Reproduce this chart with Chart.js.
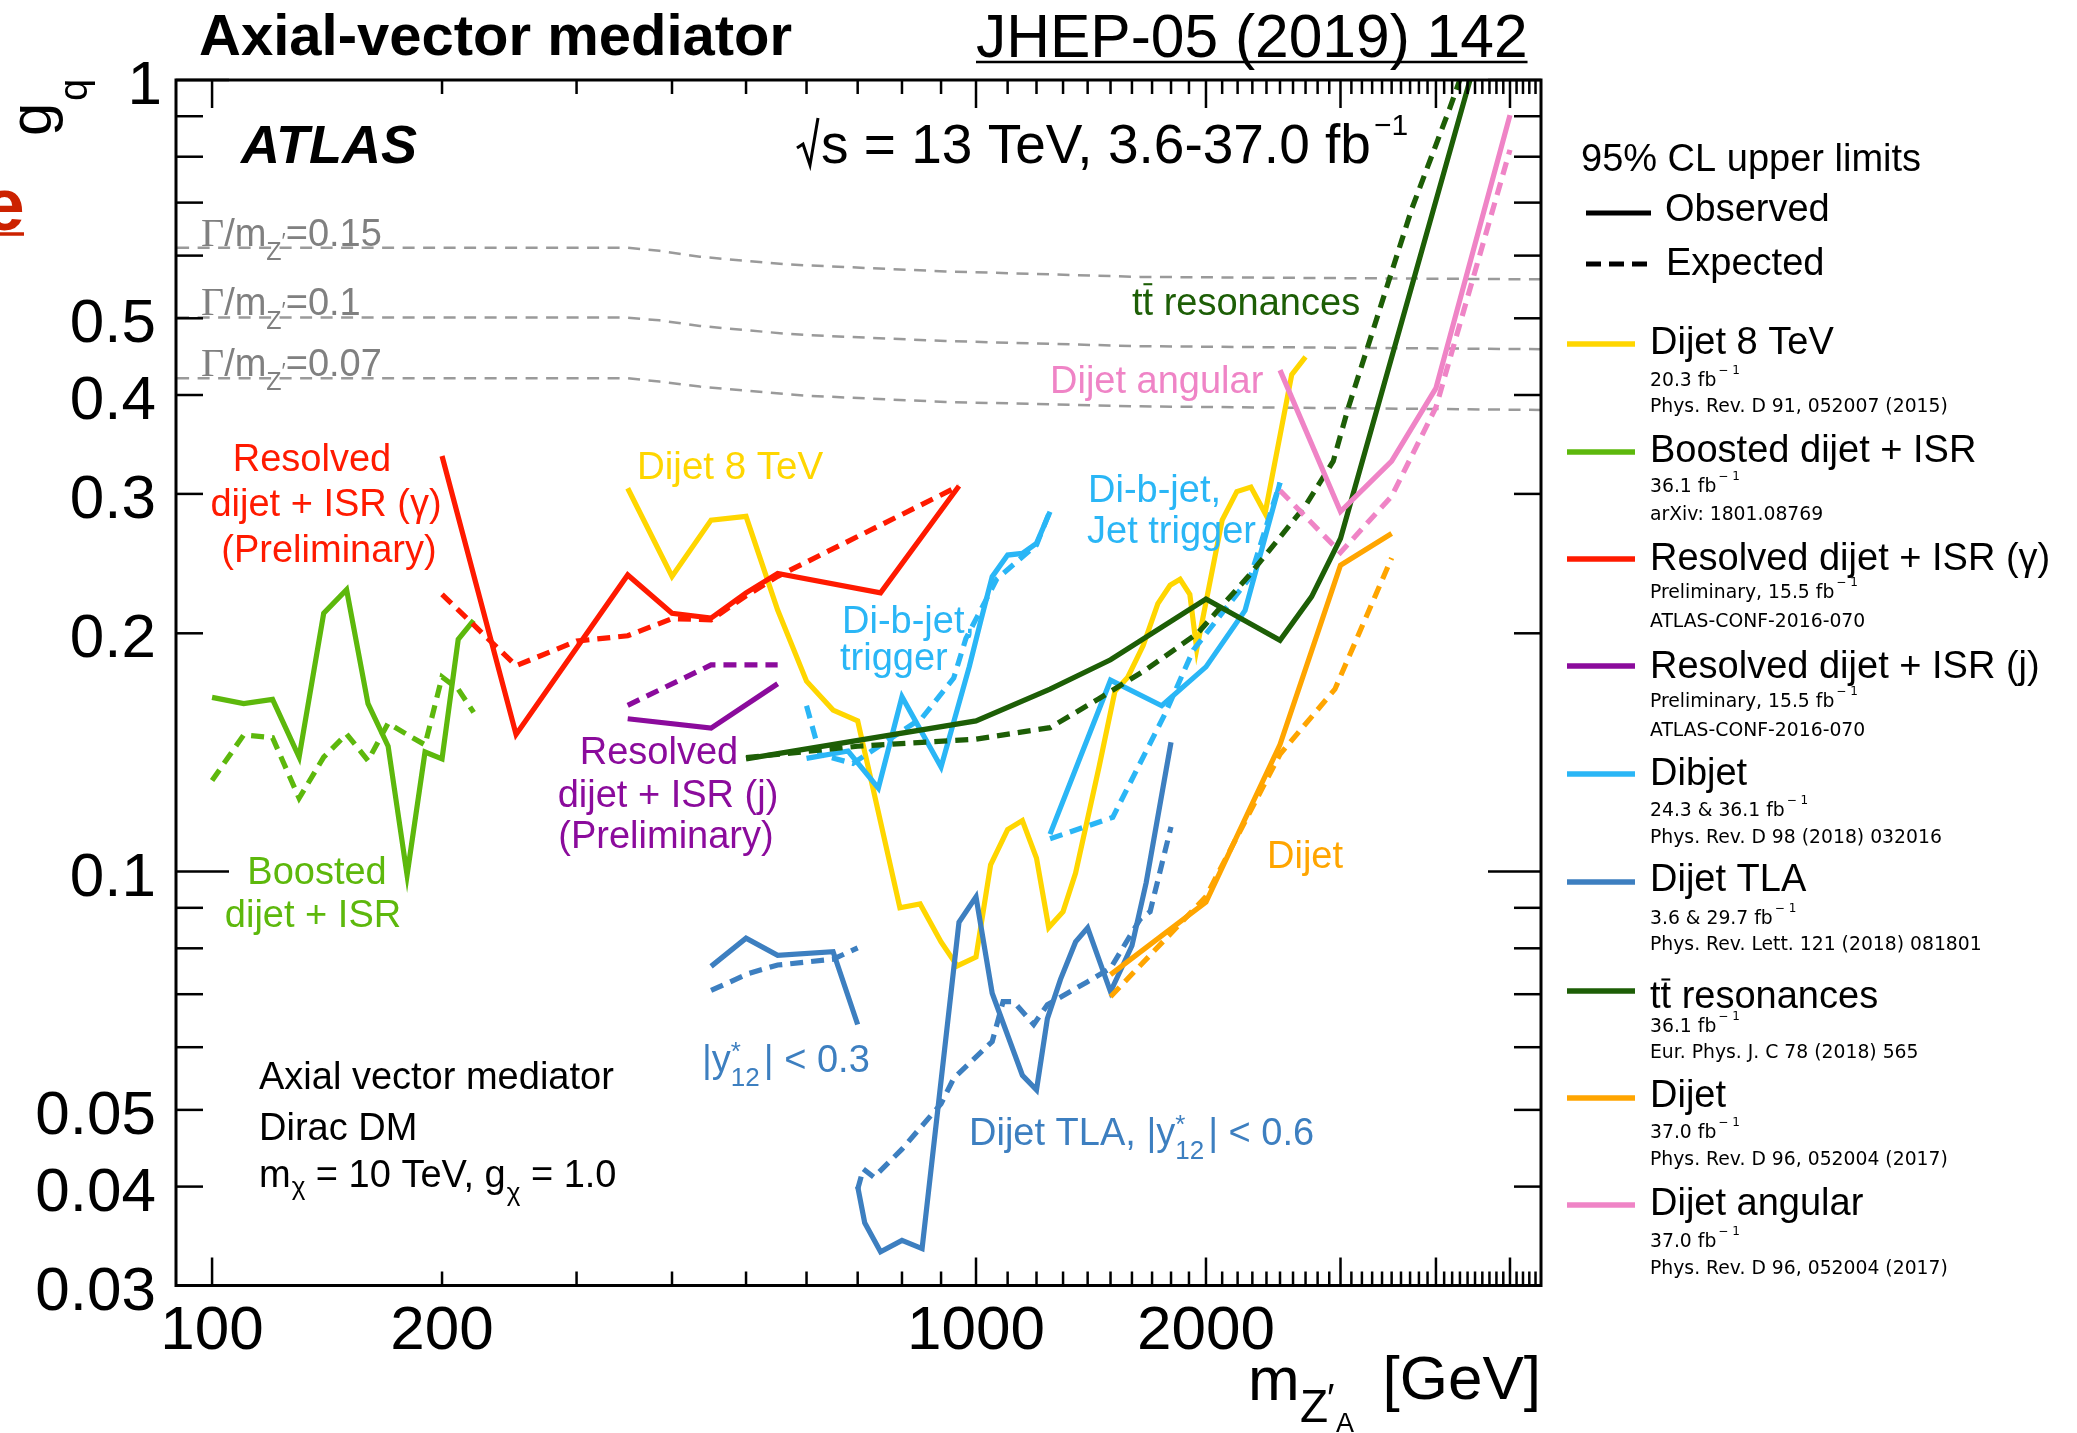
<!DOCTYPE html>
<html>
<head>
<meta charset="utf-8">
<title>Axial-vector mediator: limits on g_q</title>
<script src="https://cdn.jsdelivr.net/npm/chart.js@4.4.1/dist/chart.umd.min.js"></script>
<style>
  html, body { margin: 0; padding: 0; background: #ffffff; overflow: hidden; }
  canvas { display: block; }
</style>
</head>
<body>
<canvas id="plot" width="2077" height="1433"></canvas>
<script>
// ---------------- axes ----------------
const massRange = [89.7, 5490];
const couplingRange = [0.03, 1];
const xLabelValues = [100, 200, 1000, 2000];
const yLabelValues = [1, 0.5, 0.4, 0.3, 0.2, 0.1, 0.05, 0.04, 0.03];

// ---------------- fixed-width contours (Gamma / m) ----------------
const widthMass = [90, 350, 385, 435, 500, 565, 606, 912, 1640, 5500];
const width015 = [0.614, 0.614, 0.6085, 0.598, 0.591, 0.585, 0.583, 0.573, 0.564, 0.56];
const width010 = [0.501, 0.501, 0.497, 0.489, 0.483, 0.478, 0.476, 0.468, 0.461, 0.457];
const width007 = [0.42, 0.42, 0.416, 0.41, 0.405, 0.401, 0.399, 0.392, 0.387, 0.383];

// ---------------- Boosted dijet + ISR ----------------
const boostedMass = [100, 110, 120, 130, 140, 150, 160, 170, 180, 190, 200, 210, 220];
const boostedObs = [0.166, 0.163, 0.165, 0.1395, 0.212, 0.227, 0.163, 0.144, 0.099, 0.1416, 0.1388, 0.1965, 0.2076];
const boostedExp = [0.1303, 0.1488, 0.1476, 0.1238, 0.1395, 0.1492, 0.1381, 0.154, 0.149, 0.1446, 0.1762, 0.17, 0.1589];

// ---------------- Resolved dijet + ISR (gamma) ----------------
const resGamObsMass = [200, 250, 350, 400, 450, 500, 550, 750, 950];
const resGamObs = [0.335, 0.149, 0.237, 0.212, 0.209, 0.225, 0.238, 0.225, 0.307];
const resGamExpMass = [200, 250, 300, 350, 400, 450, 500, 550, 950];
const resGamExp = [0.224, 0.182, 0.1955, 0.1986, 0.2087, 0.208, 0.223, 0.236, 0.307];

// ---------------- Resolved dijet + ISR (jet) ----------------
const resJetMass = [350, 450, 550];
const resJetObs = [0.156, 0.1518, 0.1727];
const resJetExp = [0.1622, 0.1824, 0.1824];

// ---------------- Dijet 8 TeV ----------------
const dijet8Mass = [350, 400, 450, 500, 550, 600, 650, 700, 735, 795, 845, 900, 945, 1000, 1045, 1100, 1150, 1200, 1245, 1300, 1350, 1450, 1520, 1580, 1655, 1730, 1795, 1850, 1905, 1945, 2100, 2195, 2290, 2390, 2590, 2700];
const dijet8Obs = [0.305, 0.236, 0.278, 0.281, 0.214, 0.174, 0.16, 0.155, 0.126, 0.090, 0.091, 0.0815, 0.076, 0.078, 0.102, 0.113, 0.116, 0.104, 0.085, 0.089, 0.0996, 0.136, 0.169, 0.176, 0.193, 0.218, 0.23, 0.234, 0.224, 0.191, 0.278, 0.302, 0.306, 0.2835, 0.4245, 0.447];

// ---------------- Dibjet: b-jet trigger ----------------
const dibjetLowObsMass = [600, 680, 745, 800, 900, 980, 1015, 1050, 1100, 1150, 1200, 1250];
const dibjetLowObs = [0.139, 0.142, 0.1275, 0.1663, 0.1356, 0.1815, 0.2078, 0.2358, 0.2511, 0.2523, 0.2598, 0.2849];
const dibjetLowExpMass = [600, 625, 690, 765, 850, 935, 970, 1005, 1065, 1140, 1200, 1250];
const dibjetLowExp = [0.162, 0.1405, 0.137, 0.1463, 0.1564, 0.1756, 0.197, 0.2104, 0.2343, 0.248, 0.2587, 0.2857];

// ---------------- Dibjet: jet trigger ----------------
const dibjetHighObsMass = [1250, 1500, 1750, 2000, 2250, 2500];
const dibjetHighObs = [0.1115, 0.1745, 0.162, 0.1814, 0.2138, 0.31];
const dibjetHighExpMass = [1250, 1510, 1770, 1925, 2285, 2500];
const dibjetHighExp = [0.11, 0.1171, 0.1586, 0.1905, 0.2354, 0.31];

// ---------------- Dijet TLA, |y*12| < 0.3 ----------------
const tlaNarrowMass = [450, 500, 550, 650, 700];
const tlaNarrowObs = [0.0759, 0.0824, 0.0784, 0.0792, 0.0641];
const tlaNarrowExpMass = [450, 505, 550, 650, 700];
const tlaNarrowExp = [0.0708, 0.0744, 0.0762, 0.0775, 0.0801];

// ---------------- Dijet TLA, |y*12| < 0.6 ----------------
const tlaWideObsMass = [700, 715, 750, 800, 850, 950, 1000, 1050, 1150, 1200, 1240, 1290, 1350, 1400, 1500, 1600, 1670, 1800];
const tlaWideObs = [0.04, 0.036, 0.0331, 0.0342, 0.0334, 0.0863, 0.0929, 0.0702, 0.0553, 0.053, 0.0652, 0.0731, 0.0815, 0.0849, 0.0705, 0.0806, 0.0968, 0.1457];
const tlaWideExpMass = [700, 712, 735, 800, 900, 935, 1050, 1085, 1120, 1190, 1240, 1400, 1500, 1640, 1690, 1800];
const tlaWideExp = [0.0397, 0.0421, 0.0411, 0.0446, 0.0509, 0.0548, 0.061, 0.0685, 0.0685, 0.0641, 0.0679, 0.0726, 0.0755, 0.0871, 0.089, 0.1139];

// ---------------- ttbar resonances ----------------
const ttObsMass = [500, 1000, 1250, 1500, 2000, 2500, 2750, 3000, 4500];
const ttObs = [0.1388, 0.155, 0.17, 0.1852, 0.221, 0.196, 0.2225, 0.2635, 1.053];
const ttExpMass = [500, 700, 1000, 1250, 1450, 1670, 1950, 2280, 2700, 2935, 3070, 3380, 3720, 4170, 4450];
const ttExp = [0.1393, 0.144, 0.147, 0.152, 0.1655, 0.18, 0.2, 0.237, 0.29, 0.33, 0.385, 0.515, 0.688, 0.921, 1.1];

// ---------------- Dijet 13 TeV ----------------
const dijetObsMass = [1500, 2000, 2500, 3000, 3500];
const dijetObs = [0.0741, 0.0915, 0.1447, 0.2438, 0.2673];
const dijetExpMass = [1500, 2000, 2500, 2950, 3500];
const dijetExp = [0.0695, 0.093, 0.1407, 0.17, 0.249];

// ---------------- Dijet angular ----------------
const angularMass = [2500, 3000, 3500, 4000, 5000];
const angularObs = [0.43, 0.285, 0.33, 0.408, 0.903];
const angularExp = [0.303, 0.253, 0.298, 0.386, 0.816];

// ---------------- legend texts ----------------
const legendTitles = ['Dijet 8 TeV', 'Boosted dijet + ISR', 'Resolved dijet + ISR (\u03b3)', 'Resolved dijet + ISR (j)', 'Dibjet', 'Dijet TLA', 'tt resonances', 'Dijet', 'Dijet angular'];
const legendLumi = ['20.3 fb', '36.1 fb', 'Preliminary, 15.5 fb', 'Preliminary, 15.5 fb', '24.3 & 36.1 fb', '3.6 & 29.7 fb', '36.1 fb', '37.0 fb', '37.0 fb'];
const legendRefs = ['Phys. Rev. D 91, 052007 (2015)', 'arXiv: 1801.08769', 'ATLAS-CONF-2016-070', 'ATLAS-CONF-2016-070', 'Phys. Rev. D 98 (2018) 032016', 'Phys. Rev. Lett. 121 (2018) 081801', 'Eur. Phys. J. C 78 (2018) 565', 'Phys. Rev. D 96, 052004 (2017)', 'Phys. Rev. D 96, 052004 (2017)'];

// ---------------- styling ----------------
const COL = {
  dijet8: '#ffd600', boosted: '#5db80c', resGam: '#ff1a00', resJet: '#8b0b9c',
  dibjet: '#2ab6f6', tla: '#3d7fc0', ttbar: '#1d5e06', dijet: '#ffa500',
  angular: '#ef84c6', width: '#9a9a9a', widthText: '#808080'
};
const legendColors = [COL.dijet8, COL.boosted, COL.resGam, COL.resJet, COL.dibjet, COL.tla, COL.ttbar, COL.dijet, COL.angular];
const SANS = '"Liberation Sans", Arial, Helvetica, sans-serif';
const WIDE = '"DejaVu Sans", Verdana, sans-serif';
const SERIF = '"Liberation Serif", "Times New Roman", serif';
const DASH = [13, 8];
const LW = 5.2;

function pts(m, g) { return m.map((v, i) => ({ x: v, y: g[i] })); }
function curve(m, g, color, dashed, order, width) {
  return {
    data: pts(m, g), borderColor: color, backgroundColor: color,
    borderWidth: width || LW, borderDash: dashed ? (Array.isArray(dashed) ? dashed : DASH) : [],
    pointRadius: 0, fill: false, tension: 0, order: order, clip: 0
  };
}

const datasets = [
  curve(widthMass, width015, COL.width, [12, 8.5], 100, 2.5),
  curve(widthMass, width010, COL.width, [12, 8.5], 100, 2.5),
  curve(widthMass, width007, COL.width, [12, 8.5], 100, 2.5),
  curve(dijet8Mass, dijet8Obs, COL.dijet8, false, 20),
  curve(boostedMass, boostedExp, COL.boosted, true, 19),
  curve(boostedMass, boostedObs, COL.boosted, false, 19),
  curve(resGamExpMass, resGamExp, COL.resGam, true, 18),
  curve(resGamObsMass, resGamObs, COL.resGam, false, 18),
  curve(resJetMass, resJetExp, COL.resJet, true, 17),
  curve(resJetMass, resJetObs, COL.resJet, false, 17),
  curve(dibjetLowExpMass, dibjetLowExp, COL.dibjet, true, 16),
  curve(dibjetLowObsMass, dibjetLowObs, COL.dibjet, false, 16),
  curve(dibjetHighExpMass, dibjetHighExp, COL.dibjet, true, 16),
  curve(dibjetHighObsMass, dibjetHighObs, COL.dibjet, false, 16),
  curve(tlaNarrowExpMass, tlaNarrowExp, COL.tla, true, 15),
  curve(tlaNarrowMass, tlaNarrowObs, COL.tla, false, 15),
  curve(tlaWideExpMass, tlaWideExp, COL.tla, true, 15),
  curve(tlaWideObsMass, tlaWideObs, COL.tla, false, 15),
  curve(ttExpMass, ttExp, COL.ttbar, true, 14),
  curve(ttObsMass, ttObs, COL.ttbar, false, 14),
  curve(dijetExpMass, dijetExp, COL.dijet, true, 13),
  curve(dijetObsMass, dijetObs, COL.dijet, false, 13),
  curve(angularMass, angularExp, COL.angular, true, 12),
  curve(angularMass, angularObs, COL.angular, false, 12)
];

// ---------------- text helpers ----------------
function fnt(size, weight, style, fam) {
  return (style || 'normal') + ' ' + (weight || 'normal') + ' ' + size + 'px ' + (fam || SANS);
}
function put(ctx, text, x, y, size, color, opt) {
  opt = opt || {};
  ctx.font = fnt(size, opt.weight, opt.style, opt.fam);
  ctx.fillStyle = color;
  ctx.textAlign = opt.align || 'left';
  ctx.textBaseline = 'alphabetic';
  ctx.fillText(text, x, y);
  return ctx.measureText(text).width;
}
// a run of text pieces (sub/superscripts, stacked indices, overlines)
function seq(ctx, x, y, color, parts, align) {
  const widths = parts.map(p => { ctx.font = fnt(p.size, p.weight, p.style, p.fam); return ctx.measureText(p.t).width; });
  function layout(draw, x0) {
    let cx = x0, lastX = x0, lastW = 0;
    parts.forEach((p, i) => {
      const w = widths[i];
      let px;
      if (p.stack) { px = lastX; cx = lastX + Math.max(lastW, w); lastW = Math.max(lastW, w); }
      else { px = cx + (p.gap || 0); lastX = px; lastW = w; cx = px + w; }
      if (draw) {
        ctx.font = fnt(p.size, p.weight, p.style, p.fam);
        ctx.fillStyle = color; ctx.textAlign = 'left'; ctx.textBaseline = 'alphabetic';
        ctx.fillText(p.t, px, y + (p.dy || 0));
        if (p.over) {
          ctx.strokeStyle = color; ctx.lineWidth = Math.max(1.5, p.size * 0.055); ctx.setLineDash([]);
          const oy = y + (p.dy || 0) - p.size * p.over;
          ctx.beginPath(); ctx.moveTo(px + w * 0.08, oy); ctx.lineTo(px + w * 0.92, oy); ctx.stroke();
        }
      }
    });
    return cx - x0;
  }
  const total = layout(false, 0);
  const x0 = align === 'center' ? x - total / 2 : (align === 'right' ? x - total : x);
  layout(true, x0);
  return total;
}
function seg(ctx, x1, y1, x2, y2) { ctx.beginPath(); ctx.moveTo(x1, y1); ctx.lineTo(x2, y2); ctx.stroke(); }

// ---------------- frame, ticks, labels, legend ----------------
const decorations = {
  id: 'decorations',
  afterDraw(chart) {
    const ctx = chart.ctx;
    const a = chart.chartArea;
    const xs = chart.scales.x, ys = chart.scales.y;
    ctx.save();

    // frame
    ctx.strokeStyle = '#000'; ctx.lineWidth = 3; ctx.setLineDash([]);
    ctx.strokeRect(a.left, a.top, a.right - a.left, a.bottom - a.top);

    // ticks on the four sides, pointing inwards
    ctx.lineWidth = 2.5;
    const xTicks = [];
    for (let m = 100; m <= 1000; m += 100) xTicks.push(m);
    for (let m = 1100; m <= 5400; m += 100) xTicks.push(m);
    const xMajor = [100, 1000, 2000, 3000, 4000, 5000];
    xTicks.forEach(m => {
      const px = xs.getPixelForValue(m);
      const len = xMajor.includes(m) ? 28 : 14;
      seg(ctx, px, a.bottom, px, a.bottom - len);
      seg(ctx, px, a.top, px, a.top + len);
    });
    const yTicks = [0.03, 0.04, 0.05, 0.06, 0.07, 0.08, 0.09, 0.1, 0.2, 0.3, 0.4, 0.5, 0.6, 0.7, 0.8, 0.9, 1];
    yTicks.forEach(g => {
      const py = ys.getPixelForValue(g);
      const len = (g === 0.1 || g === 1) ? 53 : 27;
      seg(ctx, a.left, py, a.left + len, py);
      seg(ctx, a.right, py, a.right - len, py);
    });

    // tick labels
    xLabelValues.forEach(m => put(ctx, String(m), xs.getPixelForValue(m), 1349, 62, '#000', { align: 'center' }));
    yLabelValues.forEach(g => put(ctx, String(g), g === 1 ? 162 : 156, ys.getPixelForValue(g) + 24, 62, '#000', { align: 'right' }));

    // axis titles
    put(ctx, 'm', 1248, 1400, 62, '#000');
    put(ctx, 'Z', 1300, 1422, 46, '#000');
    put(ctx, '\u2032', 1327, 1412, 40, '#000');
    put(ctx, 'A', 1336, 1432, 27, '#000');
    put(ctx, '[GeV]', 1541, 1399, 62, '#000', { align: 'right' });
    ctx.save(); ctx.translate(51, 136); ctx.rotate(-Math.PI / 2); put(ctx, 'g', 0, 0, 60, '#000'); ctx.restore();
    ctx.save(); ctx.translate(87, 101); ctx.rotate(-Math.PI / 2); put(ctx, 'q', 0, 0, 40, '#000'); ctx.restore();

    // header
    put(ctx, 'Axial-vector mediator', 199, 55, 58, '#000', { weight: 'bold' });
    const jw = put(ctx, 'JHEP-05 (2019) 142', 976, 57, 60.5, '#000');
    ctx.strokeStyle = '#000'; ctx.lineWidth = 2.5; seg(ctx, 976, 62, 976 + jw, 62);
    // clipped heading letter at the left border
    put(ctx, 'e', -17, 230, 75, '#cc2200', { weight: 'bold' });
    ctx.strokeStyle = '#cc2200'; ctx.lineWidth = 3.5; seg(ctx, 0, 234, 24, 234);

    // experiment labels
    put(ctx, 'ATLAS', 241, 163, 54, '#000', { weight: 'bold', style: 'italic' });
    ctx.strokeStyle = '#000'; ctx.lineWidth = 3;
    ctx.beginPath(); ctx.moveTo(797, 148); ctx.lineTo(803, 144); ctx.lineTo(810, 165); ctx.lineTo(818, 118); ctx.stroke();
    seq(ctx, 821, 163, '#000', [
      { t: 's = 13 TeV, 3.6-37.0 fb', size: 55 },
      { t: '\u22121', size: 30, dy: -28, gap: 3 }
    ]);

    // fixed-width contour labels
    [['0.15', 246], ['0.1', 315], ['0.07', 376]].forEach(([v, by]) => {
      seq(ctx, 201, by, COL.widthText, [
        { t: '\u0393', size: 40, fam: SERIF },
        { t: '/m', size: 38 },
        { t: 'Z', size: 25, dy: 14 },
        { t: '\u2032', size: 22, dy: 2 },
        { t: '=' + v, size: 38 }
      ]);
    });

    // curve annotations
    const F = 38;
    put(ctx, 'Resolved', 312, 471, F, COL.resGam, { align: 'center' });
    put(ctx, 'dijet + ISR (\u03b3)', 326, 516, F, COL.resGam, { align: 'center' });
    put(ctx, '(Preliminary)', 329, 562, F, COL.resGam, { align: 'center' });
    put(ctx, 'Boosted', 317, 884, F, COL.boosted, { align: 'center' });
    put(ctx, 'dijet + ISR', 313, 927, F, COL.boosted, { align: 'center' });
    put(ctx, 'Dijet 8 TeV', 637, 479, 38.5, COL.dijet8);
    put(ctx, 'Resolved', 659, 764, F, COL.resJet, { align: 'center' });
    put(ctx, 'dijet + ISR (j)', 668, 807, F, COL.resJet, { align: 'center' });
    put(ctx, '(Preliminary)', 666, 848, F, COL.resJet, { align: 'center' });
    put(ctx, 'Di-b-jet,', 842, 633, F, COL.dibjet);
    put(ctx, 'trigger', 840, 670, F, COL.dibjet);
    put(ctx, 'Di-b-jet,', 1088, 502, F, COL.dibjet);
    put(ctx, 'Jet trigger', 1087, 543, F, COL.dibjet);
    const ystar = [
      { t: '|y', size: F },
      { t: '*', size: 26, dy: -12 },
      { t: '12', size: 26, dy: 14, stack: true },
      { t: '|', size: F, gap: 4 }
    ];
    seq(ctx, 702, 1072, COL.tla, ystar.concat([{ t: ' < 0.3', size: F }]));
    seq(ctx, 969, 1145, COL.tla, [{ t: 'Dijet TLA, ', size: F }].concat(ystar, [{ t: ' < 0.6', size: F }]));
    put(ctx, 'Dijet angular', 1050, 393, F, COL.angular);
    seq(ctx, 1132, 315, COL.ttbar, [
      { t: 't', size: F }, { t: 't', size: F, over: 0.81 }, { t: ' resonances', size: F }
    ]);
    put(ctx, 'Dijet', 1267, 868, F, COL.dijet);

    // model description
    put(ctx, 'Axial vector mediator', 259, 1089, F, '#000');
    put(ctx, 'Dirac DM', 259, 1140, F, '#000');
    seq(ctx, 259, 1187, '#000', [
      { t: 'm', size: F },
      { t: '\u03c7', size: 26, dy: 8, gap: 1 },
      { t: ' = 10 TeV, g', size: F },
      { t: '\u03c7', size: 26, dy: 14, gap: 1 },
      { t: ' = 1.0', size: F }
    ]);

    // legend
    const LT = 38;
    const LS = 18.8;
    put(ctx, '95% CL upper limits', 1581, 171, LT, '#000');
    ctx.strokeStyle = '#000'; ctx.lineWidth = 5; ctx.setLineDash([]);
    seg(ctx, 1586, 213, 1651, 213);
    put(ctx, 'Observed', 1665, 221, LT, '#000');
    ctx.setLineDash([15, 8]); seg(ctx, 1586, 264, 1647, 264); ctx.setLineDash([]);
    put(ctx, 'Expected', 1666, 275, LT, '#000');

    const rowLine = [344, 452, 559, 666, 774, 882, 991, 1098, 1205];
    const rowTitle = [354, 462, 570, 678, 785, 891, 1008, 1107, 1215];
    const rowLumi = [386, 492, 598, 707, 816, 924, 1032, 1138, 1247];
    const rowRef = [412, 520, 627, 736, 843, 950, 1058, 1165, 1274];
    legendTitles.forEach((title, i) => {
      ctx.strokeStyle = legendColors[i]; ctx.lineWidth = 5.5; ctx.setLineDash([]);
      seg(ctx, 1567, rowLine[i], 1635, rowLine[i]);
      if (title.startsWith('tt ')) {
        seq(ctx, 1650, rowTitle[i], '#000', [
          { t: 't', size: LT }, { t: 't', size: LT, over: 0.75 }, { t: title.slice(2), size: LT }
        ]);
      } else {
        put(ctx, title, 1650, rowTitle[i], LT, '#000');
      }
      seq(ctx, 1650, rowLumi[i], '#000', [
        { t: legendLumi[i], size: LS, fam: WIDE },
        { t: '\u2212 1', size: 12, dy: -12, gap: 2, fam: WIDE }
      ]);
      put(ctx, legendRefs[i], 1650, rowRef[i], LS, '#000', { fam: WIDE });
    });

    ctx.restore();
  }
};

new Chart(document.getElementById('plot').getContext('2d'), {
  type: 'line',
  data: { datasets: datasets },
  options: {
    responsive: false,
    animation: false,
    devicePixelRatio: 1,
    layout: { padding: { left: 176, top: 80, right: 2077 - 1541, bottom: 1433 - 1285.5 } },
    scales: {
      x: { type: 'logarithmic', min: massRange[0], max: massRange[1], display: false },
      y: { type: 'logarithmic', min: couplingRange[0], max: couplingRange[1], display: false }
    },
    plugins: { legend: { display: false }, tooltip: { enabled: false }, title: { display: false } },
    elements: { point: { radius: 0 }, line: { tension: 0, borderJoinStyle: 'miter' } }
  },
  plugins: [decorations]
});
</script>
</body>
</html>
